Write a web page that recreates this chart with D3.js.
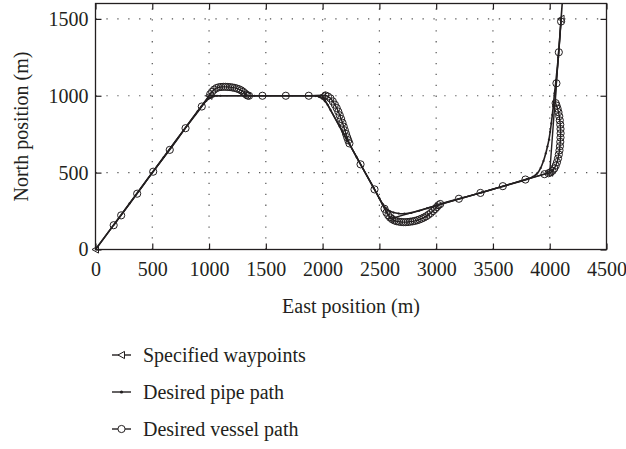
<!DOCTYPE html>
<html><head><meta charset="utf-8">
<script src="https://cdn.jsdelivr.net/npm/d3@7"></script>
<style>
body{margin:0;background:#fff}
svg{display:block}
text{font-family:"Liberation Serif","Times New Roman",serif;fill:#231f20}
</style>
</head><body>
<svg id="c" width="626" height="449"></svg>
<script>
const xTicks = [0,500,1000,1500,2000,2500,3000,3500,4000,4500];
const yTicks = [0,500,1000,1500];
const xTitle = "East position (m)";
const yTitle = "North position (m)";
const legendLabels = ["Specified waypoints","Desired pipe path","Desired vessel path"];

const waypointX = [0,1000,2000,2600,4000,4100];
const waypointY = [0,1000,1000,200,500,1500];

const pipeX = [0,300,600,900,930,955,975,995,1015,1040,1070,1100,1400,1700,1900,1940,1970,1995,2020,2045,2070,2150,2300,2450,2500,2530,2560,2590,2625,2670,2720,2780,2850,2920,3000,3400,3800,3850,3890,3920,3945,3965,3980,3993,4004,4014,4023,4031,4042,4055,4075,4100,4120];
const pipeY = [0,300,600,900,928,950,966,979,989,996,1000,1000,1000,1000,1000,998,992,982,965,940,907,800,600,400,333,295,267,250,240,234,233,238,252,268,286,371,457,472,495,530,575,625,670,715,765,820,875,930,1015,1100,1250,1500,1700];

const vesselX = [160,226,367,508,654,793,936,1010,1027,1045,1065,1085,1105,1125,1145,1165,1185,1205,1225,1245,1265,1283,1300,1315,1328,1340,1352,1470,1676,1878,2025,2047,2069,2090,2108,2124,2138,2151,2163,2175,2186,2196,2206,2216,2226,2236,2334,2457,2545,2562,2578,2594,2612,2632,2652,2672,2692,2712,2732,2752,2772,2792,2812,2832,2852,2872,2892,2912,2932,2952,2972,2990,3006,3020,3036,3200,3390,3587,3786,3954,3990,4008,4025,4040,4053,4064,4073,4080,4086,4090,4093,4095,4096,4095,4093,4089,4084,4077,4069,4060,4052,4059,4080,4100];
const vesselY = [158,222,363,506,648,789,930,1010,1026,1040,1050,1055,1057,1058,1058,1057,1056,1054,1051,1047,1042,1035,1026,1016,1007,1001,1000,1000,1000,1000,1002,995,983,963,942,920,897,873,849,824,799,775,752,730,710,690,554,391,265,240,222,208,197,189,184,181,179,178,178,179,181,183,186,190,195,201,208,216,226,237,250,263,276,288,296,330,368,412,455,490,496,502,512,527,546,568,592,618,645,672,700,728,756,784,812,840,867,893,916,936,952,1081,1283,1483];

const W = 626, H = 449;
const L = 95.5, R = 606.5, T = 3.5, B = 249.5;
const svg = d3.select("#c");
const x = d3.scaleLinear().domain([0,4500]).range([L,R]);
const y = d3.scaleLinear().domain([0,1600]).range([B,T]);
const ink = "#231f20";
const FS = 20;

svg.append("defs").append("clipPath").attr("id","clip")
  .append("rect").attr("x",L).attr("y",T).attr("width",R-L).attr("height",B-T);

// grid
const grid = svg.append("g").attr("stroke","#555").attr("stroke-width",1.2).attr("stroke-dasharray","1.3,9.6");
grid.selectAll(".gx").data(xTicks.slice(1,-1)).join("line")
  .attr("x1",d=>x(d)).attr("x2",d=>x(d)).attr("y1",B).attr("y2",T);
grid.selectAll(".gy").data(yTicks.slice(1)).join("line")
  .attr("y1",d=>y(d)).attr("y2",d=>y(d)).attr("x1",L).attr("x2",R);

// axes
const fmt = d3.format("d");
const ax = svg.append("g").attr("transform",`translate(0,${B})`)
  .call(d3.axisBottom(x).tickValues(xTicks).tickFormat(fmt).tickSizeInner(-6).tickSizeOuter(0).tickPadding(12));
const ay = svg.append("g").attr("transform",`translate(${L},0)`)
  .call(d3.axisLeft(y).tickValues(yTicks).tickFormat(fmt).tickSizeInner(-6).tickSizeOuter(0).tickPadding(7));
const at = svg.append("g").attr("transform",`translate(0,${T})`)
  .call(d3.axisTop(x).tickValues(xTicks).tickFormat("").tickSizeInner(-6).tickSizeOuter(0));
const ar = svg.append("g").attr("transform",`translate(${R},0)`)
  .call(d3.axisRight(y).tickValues(yTicks).tickFormat("").tickSizeInner(-6).tickSizeOuter(0));
[ax,ay,at,ar].forEach(g=>{
  g.select(".domain").remove();
  g.selectAll("line").attr("stroke",ink).attr("stroke-width",1.2);
  g.selectAll("text").attr("font-family","Liberation Serif, serif").attr("font-size",FS).attr("fill",ink);
});
svg.append("rect").attr("x",L).attr("y",T).attr("width",R-L).attr("height",B-T)
  .attr("fill","none").attr("stroke",ink).attr("stroke-width",1.3);

// titles
svg.append("text").attr("x",(L+R)/2).attr("y",313).attr("text-anchor","middle")
  .attr("font-size",FS).text(xTitle);
svg.append("text").attr("transform",`translate(28,${(T+B)/2}) rotate(-90)`).attr("text-anchor","middle")
  .attr("font-size",FS).text(yTitle);

const plot = svg.append("g").attr("clip-path","url(#clip)");
const lineLin = d3.line().x(d=>x(d[0])).y(d=>y(d[1]));
const lineSmooth = d3.line().x(d=>x(d[0])).y(d=>y(d[1])).curve(d3.curveCatmullRom.alpha(0.5));

const wp = waypointX.map((v,i)=>[v,waypointY[i]]);
const pp = pipeX.map((v,i)=>[v,pipeY[i]]);
const vp = vesselX.map((v,i)=>[v,vesselY[i]]);

const triPath = "M-3.5,0L3,-3.6L3,3.6Z";

plot.append("path").attr("d",lineLin(wp)).attr("fill","none").attr("stroke",ink).attr("stroke-width",1.4);
plot.append("path").attr("d",lineSmooth(pp)).attr("fill","none").attr("stroke",ink).attr("stroke-width",1.6);
plot.append("path").attr("d",lineSmooth(vp)).attr("fill","none").attr("stroke",ink).attr("stroke-width",1.4);

plot.selectAll(".pd").data(pp).join("circle")
  .attr("cx",d=>x(d[0])).attr("cy",d=>y(d[1])).attr("r",1.1).attr("fill",ink);
plot.selectAll(".vc").data(vp).join("circle")
  .attr("cx",d=>x(d[0])).attr("cy",d=>y(d[1])).attr("r",3.6)
  .attr("fill","none").attr("stroke",ink).attr("stroke-width",1);
svg.selectAll(".wt").data(wp).join("path")
  .attr("d",triPath).attr("transform",d=>`translate(${x(d[0])},${y(d[1])})`)
  .attr("fill","none").attr("stroke",ink).attr("stroke-width",1);

// legend
const legY = [355,392,429];
const lx1 = 112, lx2 = 131, tx = 143;
const lg = svg.append("g");
legendLabels.forEach((lab,i)=>{
  const yy = legY[i];
  lg.append("line").attr("x1",lx1).attr("x2",lx2).attr("y1",yy).attr("y2",yy)
    .attr("stroke",ink).attr("stroke-width",1.4);
  const mx = (lx1+lx2)/2;
  if(i===0){
    lg.append("path").attr("d",triPath).attr("transform",`translate(${mx},${yy})`)
      .attr("fill","#fff").attr("stroke",ink).attr("stroke-width",1);
  } else if(i===1){
    lg.append("circle").attr("cx",mx).attr("cy",yy).attr("r",1.6).attr("fill",ink);
  } else {
    lg.append("circle").attr("cx",mx).attr("cy",yy).attr("r",3.6).attr("fill","#fff")
      .attr("stroke",ink).attr("stroke-width",1);
  }
  lg.append("text").attr("x",tx).attr("y",yy+6.5).attr("font-size",FS).text(lab);
});
</script>
</body></html>
